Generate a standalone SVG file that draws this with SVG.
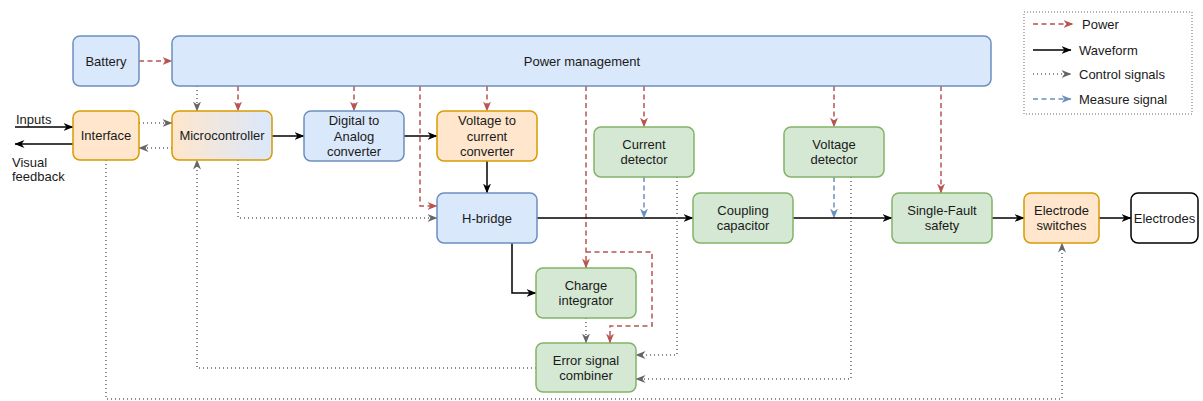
<svg xmlns="http://www.w3.org/2000/svg" width="1203" height="401" viewBox="0 0 1203 401">
<style>
text{font-family:"Liberation Sans",Arial,Helvetica,sans-serif;font-size:13px;fill:#1a1a1a;text-anchor:middle}
.lt{text-anchor:start}
.blue{fill:#dae8fc;stroke:#6c8ebf;stroke-width:1.5}
.org{fill:#ffe6cc;stroke:#d79b00;stroke-width:1.5}
.grn{fill:#d5e8d4;stroke:#82b366;stroke-width:1.5}
.wht{fill:#ffffff;stroke:#000000;stroke-width:1.5}
.c{fill:none;stroke-width:1.5}
.pw{stroke:#b85450;stroke-dasharray:5 3.5;marker-end:url(#aR)}
.wf{stroke:#000000;marker-end:url(#aB)}
.ct{stroke:#666666;stroke-dasharray:1 3;marker-end:url(#aG)}
.ms{stroke:#6c8ebf;stroke-dasharray:5 3.5;marker-end:url(#aBl)}
</style>
<defs>
<linearGradient id="mcg" x1="0" y1="0" x2="1" y2="0">
<stop offset="0" stop-color="#ffe6cc"/>
<stop offset="1" stop-color="#dae8fc"/>
</linearGradient>
<marker id="aR" viewBox="0 0 10 8" markerUnits="userSpaceOnUse" markerWidth="10" markerHeight="8" refX="9.5" refY="4" orient="auto"><path d="M0,0 L10,4 L0,8 L3,4 Z" fill="#b85450"/></marker>
<marker id="aB" viewBox="0 0 10 8" markerUnits="userSpaceOnUse" markerWidth="10" markerHeight="8" refX="9.5" refY="4" orient="auto"><path d="M0,0 L10,4 L0,8 L3,4 Z" fill="#000000"/></marker>
<marker id="aG" viewBox="0 0 10 8" markerUnits="userSpaceOnUse" markerWidth="10" markerHeight="8" refX="9.5" refY="4" orient="auto"><path d="M0,0 L10,4 L0,8 L3,4 Z" fill="#666666"/></marker>
<marker id="aBl" viewBox="0 0 10 8" markerUnits="userSpaceOnUse" markerWidth="10" markerHeight="8" refX="9.5" refY="4" orient="auto"><path d="M0,0 L10,4 L0,8 L3,4 Z" fill="#6c8ebf"/></marker>
</defs>
<rect width="1203" height="401" fill="#ffffff"/>

<g id="connectors">
<path class="c pw" d="M139,61 H172"/>
<path class="c ct" d="M197,86 V111"/>
<path class="c pw" d="M238,86 V111"/>
<path class="c pw" d="M354,86 V111"/>
<path class="c pw" d="M487,86 V111"/>
<path class="c pw" d="M420,86 V206 H437"/>
<path class="c pw" d="M586,86 V268"/>
<path class="c pw" d="M586,252 H652 V326 H610 V343"/>
<path class="c pw" d="M644,86 V127"/>
<path class="c pw" d="M834,86 V127"/>
<path class="c pw" d="M941,86 V193"/>
<path class="c ct" d="M139,123 H172"/>
<path class="c ct" d="M172,148 H139"/>
<path class="c wf" d="M15,127 H73"/>
<path class="c wf" d="M73,144 H15"/>
<path class="c wf" d="M272,136 H304"/>
<path class="c wf" d="M404,136 H437"/>
<path class="c wf" d="M487,161 V193"/>
<path class="c ct" d="M238,160 V218 H437"/>
<path class="c wf" d="M537,218 H693"/>
<path class="c wf" d="M512,243 V293 H536"/>
<path class="c ct" d="M586,318 V343"/>
<path class="c ms" d="M644,177 V218"/>
<path class="c ct" d="M677,177 V355 H636"/>
<path class="c ms" d="M834,177 V218"/>
<path class="c ct" d="M851,177 V379 H636"/>
<path class="c wf" d="M793,218 H892"/>
<path class="c wf" d="M992,218 H1024"/>
<path class="c wf" d="M1099,218 H1131"/>
<path class="c ct" d="M536,368 H197 V160"/>
<path class="c ct" d="M106,160 V399 H1062 V243"/>
</g>

<g id="battery"><rect class="blue" x="73" y="36" width="66" height="50" rx="7"/><text x="106" y="65.5">Battery</text></g>
<g id="power-management"><rect class="blue" x="172" y="36" width="819" height="50" rx="7"/><text x="582" y="65.5">Power management</text></g>
<g id="interface"><rect class="org" x="73" y="111" width="66" height="49" rx="7"/><text x="106" y="140">Interface</text></g>
<g id="microcontroller"><rect x="172" y="111" width="100" height="49" rx="7" fill="url(#mcg)" stroke="#d79b00" stroke-width="1.5"/><text x="222" y="140">Microcontroller</text></g>
<g id="dac"><rect class="blue" x="304" y="111" width="100" height="50" rx="7"/><text x="354" y="124.5">Digital to</text><text x="354" y="140.5">Analog</text><text x="354" y="155.5">converter</text></g>
<g id="v2i"><rect class="org" x="437" y="111" width="100" height="50" rx="7"/><text x="487" y="124.5">Voltage to</text><text x="487" y="140.5">current</text><text x="487" y="155.5">converter</text></g>
<g id="h-bridge"><rect class="blue" x="437" y="193" width="100" height="50" rx="7"/><text x="487" y="222.5">H-bridge</text></g>
<g id="current-detector"><rect class="grn" x="594" y="127" width="100" height="50" rx="7"/><text x="644" y="149">Current</text><text x="644" y="164">detector</text></g>
<g id="voltage-detector"><rect class="grn" x="784" y="127" width="100" height="50" rx="7"/><text x="834" y="149">Voltage</text><text x="834" y="164">detector</text></g>
<g id="coupling-capacitor"><rect class="grn" x="693" y="193" width="100" height="50" rx="7"/><text x="743" y="215">Coupling</text><text x="743" y="230">capacitor</text></g>
<g id="charge-integrator"><rect class="grn" x="536" y="268" width="100" height="50" rx="7"/><text x="586" y="290">Charge</text><text x="586" y="305">integrator</text></g>
<g id="error-combiner"><rect class="grn" x="536" y="343" width="100" height="49" rx="7"/><text x="586" y="364.5">Error signal</text><text x="586" y="379.5">combiner</text></g>
<g id="single-fault"><rect class="grn" x="892" y="193" width="100" height="50" rx="7"/><text x="942" y="215">Single-Fault</text><text x="942" y="230">safety</text></g>
<g id="electrode-switches"><rect class="org" x="1024" y="193" width="75" height="50" rx="7"/><text x="1061.5" y="215">Electrode</text><text x="1061.5" y="230">switches</text></g>
<g id="electrodes"><rect class="wht" x="1131" y="193" width="67" height="50" rx="7"/><text x="1164.5" y="222.5">Electrodes</text></g>

<g id="io-labels">
<text class="lt" x="16" y="124">Inputs</text>
<text class="lt" x="12" y="167">Visual</text>
<text class="lt" x="12" y="181">feedback</text>
</g>

<g id="legend">
<rect x="1024" y="12" width="168" height="102" fill="#ffffff" stroke="#666666" stroke-width="1" stroke-dasharray="1 2"/>
<path class="c pw" d="M1033,24 H1073"/>
<text class="lt" x="1082" y="28.5">Power</text>
<path class="c wf" d="M1033,50 H1071"/>
<text class="lt" x="1079" y="54.5">Waveform</text>
<path class="c ct" d="M1033,74 H1071"/>
<text class="lt" x="1079" y="78.5">Control signals</text>
<path class="c ms" d="M1033,99 H1071"/>
<text class="lt" x="1079" y="103.5">Measure signal</text>
</g>
</svg>
